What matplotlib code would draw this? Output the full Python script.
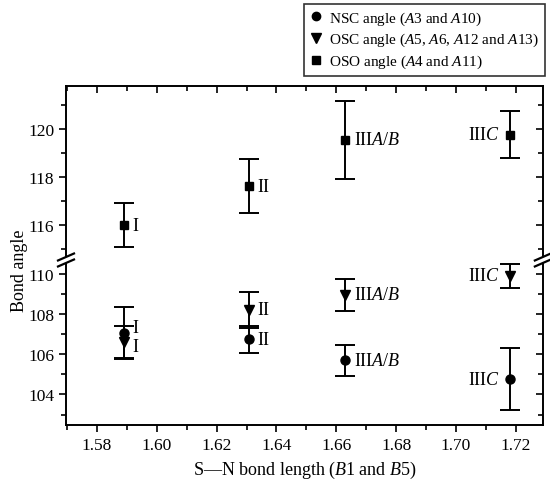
import numpy as np
import matplotlib
matplotlib.use('Agg')
import matplotlib.pyplot as plt
from matplotlib.lines import Line2D
from matplotlib.patches import Polygon

plt.rcParams['font.family'] = ['Liberation Serif', 'DejaVu Serif']
plt.rcParams['mathtext.fontset'] = 'custom'
plt.rcParams['mathtext.rm'] = 'Liberation Serif'
plt.rcParams['mathtext.it'] = 'Liberation Serif:italic'

# dades llegides del grafic
bond_len = [1.589, 1.631, 1.663, 1.718]
labels_pt = ['I', 'II', r'III$\mathit{A/B}$', r'III$\mathit{C}$']

nsc = [107.05, 106.75, 105.7, 104.75]
nsc_err = [1.3, 0.67, 0.77, 1.55]
osc = [106.6, 108.2, 108.95, 109.9]
osc_err = [0.8, 0.88, 0.78, 0.6]
oso = [116.0, 117.62, 119.55, 119.77]
oso_err = [0.92, 1.12, 1.63, 0.99]

# posicio vertical de les etiquetes
nsc_lab = [107.35, 106.75, 105.7, 104.75]
osc_lab = [106.4, 108.25, 108.95, 109.9]
oso_lab = [116.0, 117.62, 119.55, 119.77]

fig = plt.figure(figsize=(5.5, 4.81), dpi=100)
L, R = 0.12, 0.987
B, M, T = 0.114, 0.4574, 0.819
ax_lo = fig.add_axes([L, B, R - L, M - B])
ax_hi = fig.add_axes([L, M, R - L, T - M])

ekw = dict(color='black', ecolor='black', capsize=7, elinewidth=1.4,
           capthick=1.4, linestyle='none')
ax_lo.errorbar(bond_len, nsc, yerr=nsc_err, marker='o', ms=6.5, **ekw)
ax_lo.errorbar(bond_len, osc, yerr=osc_err, marker='v', ms=7.5, **ekw)
ax_hi.errorbar(bond_len, oso, yerr=oso_err, marker='s', ms=6, **ekw)

# etiquetes dels punts
for i, x in enumerate(bond_len):
    if i == 3:
        off, ha = -0.0035, 'right'
    else:
        off, ha = 0.0028, 'left'
    ax_lo.text(x + off, nsc_lab[i], labels_pt[i], ha=ha, va='center', fontsize=13)
    ax_lo.text(x + off, osc_lab[i], labels_pt[i], ha=ha, va='center', fontsize=13)
    ax_hi.text(x + off, oso_lab[i], labels_pt[i], ha=ha, va='center', fontsize=13)

for ax in (ax_lo, ax_hi):
    ax.set_xlim(1.5697, 1.729)
    ax.set_xticks(np.arange(1.58, 1.725, 0.02))
    ax.set_xticks(np.arange(1.57, 1.73, 0.01), minor=True)
    for s in ax.spines.values():
        s.set_linewidth(1.4)
    ax.tick_params(which='both', width=1.2, labelsize=12.5)
    ax.tick_params(which='major', length=5)
    ax.tick_params(which='minor', length=3.5)
    ax.tick_params(axis='y', which='both', left=True, right=True)
    ax.tick_params(axis='y', which='both', direction='out')
    ax.patch.set_alpha(0)

ax_lo.set_ylim(102.47, 110.69)
ax_lo.set_yticks([104, 106, 108, 110])
ax_lo.set_yticks([103, 105, 107, 109], minor=True)
ax_lo.spines['top'].set_visible(False)
ax_lo.tick_params(axis='x', which='both', top=False, direction='out')

ax_hi.set_ylim(114.54, 121.8)
ax_hi.set_yticks([116, 118, 120])
ax_hi.set_yticks([115, 117, 119, 121], minor=True)
ax_hi.spines['bottom'].set_visible(False)
ax_hi.tick_params(axis='x', which='both', bottom=False, labelbottom=False,
                  top=True, direction='in')

# ticks dreta cap a dins
for ax in (ax_lo, ax_hi):
    for t in ax.yaxis.get_major_ticks() + ax.yaxis.get_minor_ticks():
        t.tick2line.set_marker(matplotlib.lines.TICKLEFT)

ax_lo.set_xlabel(r'S—N bond length ($\mathit{B}$1 and $\mathit{B}$5)', fontsize=13)
fig.text(0.035, (B + T) / 2 - 0.03, 'Bond angle', rotation=90, ha='center',
         va='center', fontsize=13)

# marques de tall a l'eix
W, H = fig.get_size_inches() * fig.dpi
for xf in (L, R):
    xp, yp = xf * W, M * H
    dx, dy, g = 8, 3.5, 3
    pts = [(xp - dx, yp - dy - g), (xp + dx, yp + dy - g),
           (xp + dx, yp + dy + g), (xp - dx, yp - dy + g)]
    pts = [(a / W, b / H) for a, b in pts]
    fig.patches.append(Polygon(pts, closed=True, transform=fig.transFigure,
                               facecolor='white', edgecolor='none', zorder=5))
    for s in (-g, g):
        fig.lines.append(Line2D([(xp - dx) / W, (xp + dx) / W],
                                [(yp - dy + s) / H, (yp + dy + s) / H],
                                transform=fig.transFigure, color='black',
                                lw=1.6, zorder=6))

# llegenda
handles = [Line2D([], [], marker='o', color='black', ls='none', ms=6),
           Line2D([], [], marker='v', color='black', ls='none', ms=7),
           Line2D([], [], marker='s', color='black', ls='none', ms=5.5)]
names = [r'NSC angle ($\mathit{A}$3 and $\mathit{A}$10)',
         r'OSC angle ($\mathit{A}$5, $\mathit{A}$6, $\mathit{A}$12 and $\mathit{A}$13)',
         r'OSO angle ($\mathit{A}$4 and $\mathit{A}$11)']
leg = fig.legend(handles, names, loc='upper right', bbox_to_anchor=(0.99, 0.99),
                 fontsize=11, frameon=True, fancybox=False, handlelength=0.8,
                 handletextpad=0.5, labelspacing=0.3, borderpad=0.35,
                 edgecolor='black', borderaxespad=0)
leg.get_frame().set_linewidth(1.2)

fig.savefig('out.png', dpi=100)
